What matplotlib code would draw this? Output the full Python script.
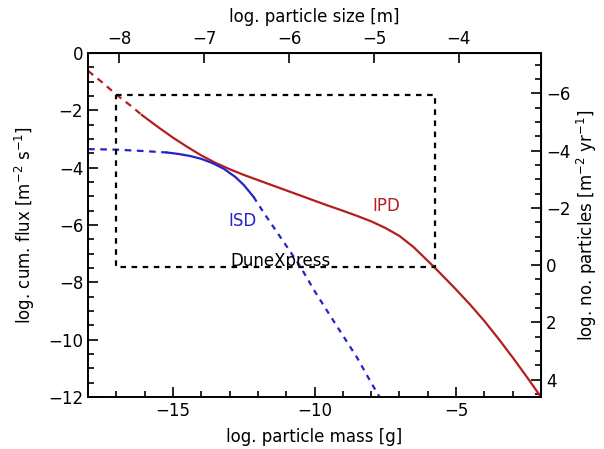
import matplotlib.pyplot as plt
from matplotlib.ticker import MultipleLocator, FixedLocator
import numpy as np

# =====================================================================
# Data
# =====================================================================
# IPD, dashed extrapolation at small masses
ipd_dash_mass = [-18.0, -17.5, -17.0, -16.5, -16.1]
ipd_dash_flux = [-0.62, -1.02, -1.45, -1.83, -2.16]
# IPD, solid part
ipd_mass = [-16.1, -15.5, -15.0, -14.5, -14.0, -13.5, -13.0, -12.5, -12.0,
            -11.5, -11.0, -10.5, -10.0, -9.5, -9.0, -8.5, -8.0, -7.5,
            -7.0, -6.5, -6.0, -5.75, -5.0, -4.5, -4.0, -3.5, -3.0, -2.5, -2.0]
ipd_flux = [-2.16, -2.6, -2.95, -3.27, -3.57, -3.83, -4.05, -4.25, -4.43,
            -4.61, -4.79, -4.97, -5.15, -5.33, -5.5, -5.68, -5.87, -6.1,
            -6.38, -6.77, -7.25, -7.49, -8.25, -8.78, -9.35, -9.97, -10.62, -11.3, -12.0]

# ISD, flat dashed part
isd_dash1_mass = [-18.0, -17.0, -16.0, -15.2]
isd_dash1_flux = [-3.35, -3.37, -3.42, -3.47]
# ISD, solid part
isd_mass = [-15.2, -14.8, -14.4, -14.0, -13.6, -13.2, -12.8, -12.5, -12.15]
isd_flux = [-3.47, -3.52, -3.59, -3.69, -3.84, -4.04, -4.32, -4.6, -5.02]
# ISD, steep dashed part
isd_dash2_mass = [-12.15, -11.8, -11.4, -11.0, -10.5, -10.0, -9.5, -9.0, -8.5, -8.0, -7.7]
isd_dash2_flux = [-5.02, -5.56, -6.14, -6.72, -7.45, -8.3, -9.08, -9.85, -10.62, -11.5, -12.0]

# DuneXpress sensitivity box
box_mass = [-17.0, -5.75]
box_flux = [-7.45, -1.45]

# axis conversions
SIZE_OFFSET = 7.1     # log mass = 3 * log size + offset
NUM_OFFSET = 7.4      # log number = -(log flux + offset)

IPD_COLOR = '#b41e1e'
ISD_COLOR = '#2323c8'

# =====================================================================
# Plot
# =====================================================================
plt.rcParams['font.family'] = 'DejaVu Sans'
plt.rcParams['font.size'] = 12

fig = plt.figure(figsize=(6.04, 4.49), dpi=100)
ax = fig.add_axes([0.1457, 0.1158, 0.75, 0.766])

lw = 1.6
ax.plot(ipd_dash_mass, ipd_dash_flux, color=IPD_COLOR, lw=lw, ls=(0, (3, 2.5)))
ax.plot(ipd_mass, ipd_flux, color=IPD_COLOR, lw=lw)
ax.plot(isd_dash1_mass, isd_dash1_flux, color=ISD_COLOR, lw=lw, ls=(0, (3, 2.5)))
ax.plot(isd_mass, isd_flux, color=ISD_COLOR, lw=lw)
ax.plot(isd_dash2_mass, isd_dash2_flux, color=ISD_COLOR, lw=lw, ls=(0, (2.5, 2.5)))

bx = [box_mass[0], box_mass[1], box_mass[1], box_mass[0], box_mass[0]]
by = [box_flux[1], box_flux[1], box_flux[0], box_flux[0], box_flux[1]]
ax.plot(bx, by, color='black', lw=1.6, ls=(0, (2.5, 2.5)))

ax.text(-12.55, -5.85, 'ISD', color=ISD_COLOR, fontsize=12, ha='center', va='center')
ax.text(-7.45, -5.35, 'IPD', color=IPD_COLOR, fontsize=12, ha='center', va='center')
ax.text(-11.2, -7.25, 'DuneXpress', color='black', fontsize=12, ha='center', va='center')

ax.set_xlim(-18, -2)
ax.set_ylim(-12, 0)
ax.xaxis.set_major_locator(FixedLocator([-15, -10, -5]))
ax.xaxis.set_minor_locator(MultipleLocator(1))
ax.yaxis.set_major_locator(MultipleLocator(2))
ax.yaxis.set_minor_locator(MultipleLocator(0.5))
ax.tick_params(which='both', direction='in', width=1.2)
ax.tick_params(which='major', length=7)
ax.tick_params(which='minor', length=4)
ax.tick_params(top=False, right=False)
for sp in ax.spines.values():
  sp.set_linewidth(1.4)

ax.set_xlabel('log. particle mass [g]', labelpad=6)
ax.set_ylabel('log. cum. flux [m$^{-2}$ s$^{-1}$]', labelpad=8)

# top axis: particle size
top = ax.secondary_xaxis('top',
                         functions=(lambda m: (m - SIZE_OFFSET) / 3.0,
                                    lambda s: 3.0 * s + SIZE_OFFSET))
top.xaxis.set_major_locator(FixedLocator([-8, -7, -6, -5, -4]))
top.tick_params(direction='in', length=7, width=1.2)
top.set_xlabel('log. particle size [m]', labelpad=6)

# right axis: number of particles
right = ax.secondary_yaxis('right',
                           functions=(lambda f: -f - NUM_OFFSET,
                                      lambda n: -n - NUM_OFFSET))
right.yaxis.set_major_locator(FixedLocator([-6, -4, -2, 0, 2, 4]))
right.yaxis.set_minor_locator(MultipleLocator(0.5))
right.tick_params(which='both', direction='in', width=1.2)
right.tick_params(which='major', length=7)
right.tick_params(which='minor', length=4)
right.set_ylabel('log. no. particles [m$^{-2}$ yr$^{-1}$]', labelpad=3)

fig.savefig('out.png', dpi=100)
